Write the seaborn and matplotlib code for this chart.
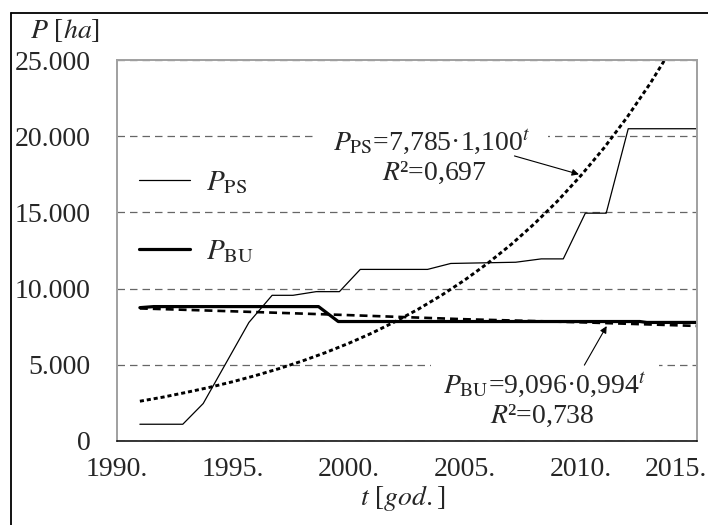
import numpy as np
import pandas as pd
import matplotlib
matplotlib.use("Agg")
import matplotlib.pyplot as plt
from matplotlib.transforms import ScaledTranslation
import seaborn as sns

# P_PS - stvarna povrsina (tanka linija)
ps_year = [1991, 1992.85, 1993.73, 1995.7, 1996.7, 1997.6, 1998.6, 1999.6, 2000.5,
           2003.4, 2004.4, 2007.2, 2008.3, 2009.25, 2010.2, 2011.1, 2012.05, 2015]
ps_area = [1100, 1100, 2460, 7780, 9560, 9560, 9800, 9800, 11260,
           11260, 11650, 11730, 11950, 11950, 14950, 14950, 20490, 20490]

# P_BU (debela linija)
bu_year = [1991, 1991.6, 1998.7, 1999.55, 2012.55, 2012.85, 2015]
bu_area = [8750, 8820, 8820, 7840, 7840, 7780, 7780]

# trendovi ocitani sa slike
ps_trend_year = list(range(1991, 2015))
ps_trend = [2610, 2880, 3190, 3520, 3890, 4300, 4750, 5250, 5800, 6410, 7080, 7830,
            8650, 9560, 10560, 11670, 12890, 14250, 15740, 17400, 19220, 21240, 23470, 25940]
bu_trend_year = [1991, 1995, 2000, 2005, 2010, 2015]
bu_trend = [8700, 8510, 8260, 7990, 7790, 7550]

y_ticks = [0, 5000, 10000, 15000, 20000, 25000]
y_labels = ["0", "5.000", "10.000", "15.000", "20.000", "25.000"]
x_ticks = [1990, 1995, 2000, 2005, 2010, 2015]
x_labels = ["1990.", "1995.", "2000.", "2005.", "2010.", "2015."]

sns.set_style("white")
plt.rcParams["font.family"] = ["Liberation Serif", "DejaVu Serif"]
plt.rcParams["mathtext.fontset"] = "stix"

fig = plt.figure(figsize=(7.08, 5.25), dpi=100)
ax = fig.add_axes([0.1648, 0.16, 0.8192, 0.7257])

ps = pd.DataFrame({"t": ps_year, "P": ps_area})
bu = pd.DataFrame({"t": bu_year, "P": bu_area})
pst = pd.DataFrame({"t": ps_trend_year, "P": ps_trend})
but = pd.DataFrame({"t": bu_trend_year, "P": bu_trend})

sns.lineplot(data=pst, x="t", y="P", ax=ax, color="black", lw=2.1,
             linestyle=(0, (1.4, 1.0)), estimator=None, zorder=2)
sns.lineplot(data=but, x="t", y="P", ax=ax, color="black", lw=1.9,
             linestyle=(0, (3.0, 1.9)), estimator=None, zorder=2)
sns.lineplot(data=ps, x="t", y="P", ax=ax, color="black", lw=0.9,
             estimator=None, label=r"$P_{\mathrm{PS}}$", zorder=2)
sns.lineplot(data=bu, x="t", y="P", ax=ax, color="black", lw=2.3,
             estimator=None, label=r"$P_{\mathrm{BU}}$", zorder=2)

ax.set_xlim(1990, 2015)
ax.set_ylim(0, 25000)
ax.set_xticks(x_ticks)
ax.set_xticklabels(x_labels)
ax.set_yticks(y_ticks)
ax.set_yticklabels(y_labels)
ax.set_xlabel("")
ax.set_ylabel("")
ax.tick_params(axis="y", length=0, pad=19, labelsize=20)
ax.tick_params(axis="x", direction="inout", length=11, width=1, color="black",
               pad=6, labelsize=20)
ax.yaxis.grid(True, linestyle=(0, (6, 4)), color="#666666", lw=0.9)
ax.set_axisbelow(True)

# zadnja oznaka ulijevo da stane na sliku
last = ax.get_xticklabels()[-1]
last.set_transform(last.get_transform() + ScaledTranslation(-0.21, 0, fig.dpi_scale_trans))

for s in ["left", "top", "right"]:
    ax.spines[s].set_color("#a0a0a0")
    ax.spines[s].set_linewidth(1.4)
ax.spines["bottom"].set_color("black")
ax.spines["bottom"].set_linewidth(1.1)

leg = ax.legend(loc="center left", bbox_to_anchor=(0.038, 0.588), frameon=False,
                prop={"size": 21}, handlelength=1.75, handletextpad=0.55,
                labelspacing=1.45, borderpad=0, borderaxespad=0)

# jednadzbe trendova
ax.text(1999.33, 19100, r"$P_{\mathrm{PS}}$=7,785·1,100$^{t}$", fontsize=20,
        ha="left", va="baseline", zorder=3,
        bbox=dict(boxstyle="square,pad=0.6", fc="white", ec="none"))
ax.text(2001.44, 17150, r"$R$²=0,697", fontsize=20, ha="left", va="baseline", zorder=5)
ax.text(2004.07, 3130, r"$P_{\mathrm{BU}}$=9,096·0,994$^{t}$", fontsize=20,
        ha="left", va="baseline", zorder=3,
        bbox=dict(boxstyle="square,pad=0.45", fc="white", ec="none"))
ax.text(2006.09, 1170, r"$R$²=0,738", fontsize=20, ha="left", va="baseline", zorder=5)

ax.annotate("", xy=(2010.04, 17450), xytext=(2007.03, 18755), zorder=6,
            arrowprops=dict(arrowstyle="-|>", color="black", lw=0.8, mutation_scale=10))
ax.annotate("", xy=(2011.18, 7700), xytext=(2010.1, 4820), zorder=6,
            arrowprops=dict(arrowstyle="-|>", color="black", lw=0.8, mutation_scale=10))

fig.text(65 / 708, 1 - 31 / 525, r"$P$ [$ha$]", fontsize=20, ha="center", va="center")
fig.text(403 / 708, 1 - 498 / 525, r"$t$ [$god.$]", fontsize=20, ha="center", va="center")

# okvir slike
fig.add_artist(plt.Line2D([11 / 708, 11 / 708], [0, 1 - 13 / 525], color="black", lw=1.3))
fig.add_artist(plt.Line2D([11 / 708, 1], [1 - 13 / 525, 1 - 13 / 525], color="black", lw=1.3))

fig.savefig("out.png", dpi=100)
